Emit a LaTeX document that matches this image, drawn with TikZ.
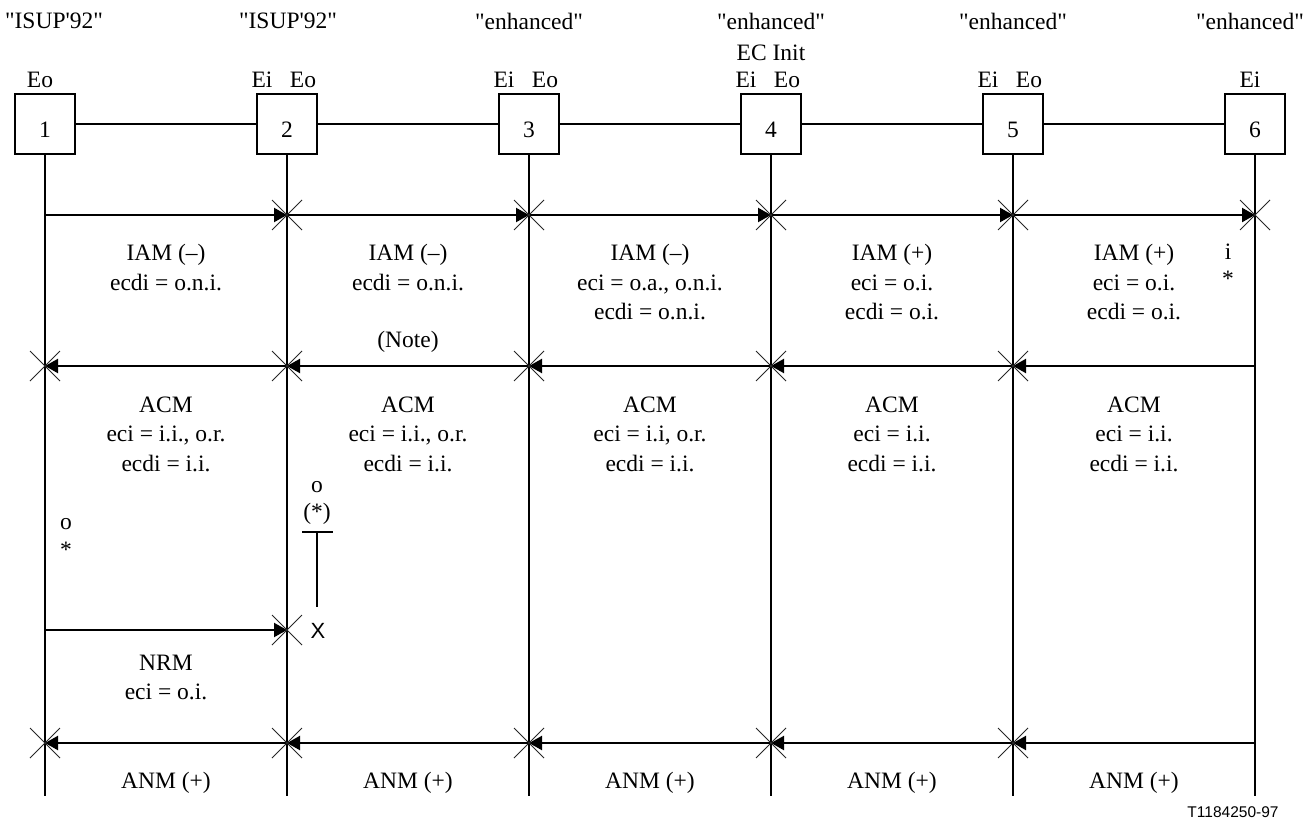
\documentclass[tikz,border=0pt]{standalone}
\usepackage{fontspec}
\newfontfamily\rmtimes{Liberation Serif}
\newfontfamily\arialfont{Liberation Sans}
\usetikzlibrary{arrows.meta}
\tikzset{
  xcross/.pic={\draw[line width=0.8pt, black!85] (-15,-15) -- (15,15) (-15,15) -- (15,-15);}
}
\begin{document}
\begin{tikzpicture}[x=1pt,y=-1pt,
  txt/.style={font=\rmtimes\fontsize{23.5}{29.5}\selectfont, align=center, inner sep=0pt},
  entity/.style={draw, line width=1.3pt, minimum size=60pt, inner sep=0pt,
    font=\rmtimes\fontsize{23.5}{28}\selectfont, text height=28pt, text depth=0pt},
  life/.style={line width=2.2pt},
  msg/.style={line width=2.2pt, -{Triangle[length=13pt,width=14pt]}},
]
\useasboundingbox (0,0) rectangle (1316,821);

% header labels
\node[txt] (h1) at (54,21) {"ISUP'92"};
\node[txt] (h2) at (288,21) {"ISUP'92"};
\node[txt] (h3) at (529,21) {"enhanced"};
\node[txt] (h4) at (771,21) {"enhanced"};
\node[txt] (h4b) at (771,53) {EC Init};
\node[txt] (h5) at (1013,21) {"enhanced"};
\node[txt] (h6) at (1250,21) {"enhanced"};

% Ei / Eo labels
\node[txt] (eo1) at (40,80) {Eo};
\node[txt] (ei2) at (262,80) {Ei};
\node[txt] (eo2) at (303,80) {Eo};
\node[txt] (ei3) at (504,80) {Ei};
\node[txt] (eo3) at (545,80) {Eo};
\node[txt] (ei4) at (746,80) {Ei};
\node[txt] (eo4) at (787,80) {Eo};
\node[txt] (ei5) at (988,80) {Ei};
\node[txt] (eo5) at (1029,80) {Eo};
\node[txt] (ei6) at (1250,80) {Ei};

% entity boxes
\node[entity] (b1) at (45,124) {1};
\node[entity] (b2) at (287,124) {2};
\node[entity] (b3) at (529,124) {3};
\node[entity] (b4) at (771,124) {4};
\node[entity] (b5) at (1013,124) {5};
\node[entity] (b6) at (1255,124) {6};
\draw[life] (b1) -- (b2);
\draw[life] (b2) -- (b3);
\draw[life] (b3) -- (b4);
\draw[life] (b4) -- (b5);
\draw[life] (b5) -- (b6);

% coordinates on lifelines
\foreach \n/\x in {1/45,2/287,3/529,4/771,5/1013,6/1255}{
  \coordinate (i\n) at (\x,215);
  \coordinate (a\n) at (\x,366);
  \coordinate (r\n) at (\x,630);
  \coordinate (n\n) at (\x,743);
  \coordinate (e\n) at (\x,796);
}
\foreach \n in {1,...,6}{ \draw[life] (b\n.south) -- (e\n); }

% IAM
\draw[msg] (i1) -- (i2);
\draw[msg] (i2) -- (i3);
\draw[msg] (i3) -- (i4);
\draw[msg] (i4) -- (i5);
\draw[msg] (i5) -- (i6);
\foreach \n in {2,...,6}{ \pic at (i\n) {xcross}; }

% ACM
\draw[msg] (a6) -- (a5);
\draw[msg] (a5) -- (a4);
\draw[msg] (a4) -- (a3);
\draw[msg] (a3) -- (a2);
\draw[msg] (a2) -- (a1);
\foreach \n in {1,...,5}{ \pic at (a\n) {xcross}; }

% NRM
\draw[msg] (r1) -- (r2);
\pic at (r2) {xcross};

% ANM
\draw[msg] (n6) -- (n5);
\draw[msg] (n5) -- (n4);
\draw[msg] (n4) -- (n3);
\draw[msg] (n3) -- (n2);
\draw[msg] (n2) -- (n1);
\foreach \n in {1,...,5}{ \pic at (n\n) {xcross}; }

% IAM texts
\node[txt] (t12) at (166,267.5) {IAM (–)\\ecdi = o.n.i.};
\node[txt] (t23) at (408,267.5) {IAM (–)\\ecdi = o.n.i.};
\node[txt] (note) at (408,342) {(Note)};
\node[txt] (t34) at (650,282.5) {IAM (–)\\eci = o.a., o.n.i.\\ecdi = o.n.i.};
\node[txt] (t45) at (892,282.5) {IAM (+)\\eci = o.i.\\ecdi = o.i.};
\node[txt] (t56) at (1134,282.5) {IAM (+)\\eci = o.i.\\ecdi = o.i.};
\node[txt] (ii) at (1228,252) {i};
\node[txt] (is) at (1228,279) {*};

% ACM texts
\node[txt] (c12) at (166,434) {ACM\\eci = i.i., o.r.\\ecdi = i.i.};
\node[txt] (c23) at (408,434) {ACM\\eci = i.i., o.r.\\ecdi = i.i.};
\node[txt] (c34) at (650,434) {ACM\\eci = i.i, o.r.\\ecdi = i.i.};
\node[txt] (c45) at (892,434) {ACM\\eci = i.i.\\ecdi = i.i.};
\node[txt] (c56) at (1134,434) {ACM\\eci = i.i.\\ecdi = i.i.};

% o * markers
\node[txt] (o1) at (66,524) {o};
\node[txt] (s1) at (66,550) {*};
\node[txt] (o2) at (317,487) {o};
\node[txt] (s2) at (317,514) {(*)};
\coordinate (bl) at (302,532);
\coordinate (br) at (333,532);
\coordinate (bt) at (317,532);
\coordinate (bb) at (317,607);
\draw[life] (bl) -- (br);
\draw[life] (bt) -- (bb);
\node[font=\arialfont\fontsize{22}{26}\selectfont, inner sep=0pt] (xx) at (318,631) {X};

% NRM text
\node[txt] (nrm) at (166,677.5) {NRM\\eci = o.i.};

% ANM texts
\node[txt] (m12) at (166,783) {ANM (+)};
\node[txt] (m23) at (408,783) {ANM (+)};
\node[txt] (m34) at (650,783) {ANM (+)};
\node[txt] (m45) at (892,783) {ANM (+)};
\node[txt] (m56) at (1134,783) {ANM (+)};

\node[font=\arialfont\fontsize{15.5}{18}\selectfont, inner sep=0pt] (ref) at (1233,812) {T1184250-97};
\end{tikzpicture}
\end{document}
